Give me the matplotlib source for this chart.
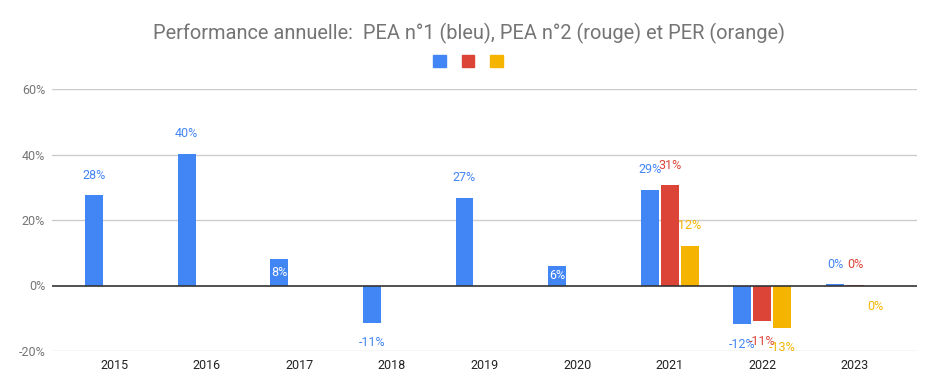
import matplotlib
matplotlib.use("Agg")
import matplotlib.pyplot as plt
from matplotlib.patches import Patch
import numpy as np

years = ["2015", "2016", "2017", "2018", "2019", "2020", "2021", "2022", "2023"]
pea1 = [27.5, 40.3, 8.2, -11.4, 26.8, 6.1, 29.2, -11.8, 0.4]
pea2 = [None, None, None, None, None, None, 30.6, -10.9, 0.2]
per = [None, None, None, None, None, None, 12.2, -12.9, -0.2]
series_names = ["PEA n°1", "PEA n°2", "PER"]
colors = ["#4285F4", "#DB4437", "#F4B400"]
title = "Performance annuelle:  PEA n°1 (bleu), PEA n°2 (rouge) et PER (orange)"
yticks = [-20, 0, 20, 40, 60]

plt.rcParams['font.family'] = ['Roboto', 'DejaVu Sans']

fig = plt.figure(figsize=(9.37, 3.92), dpi=100)
ax = fig.add_axes([52/937, 1-351/392, (917-52)/937, (351-89)/392])

x = np.arange(len(years))
width = 0.194
step = 0.216
offsets = [-step, 0, step]

def fmt(v):
    r = int(np.floor(abs(v) + 0.5)) * (1 if v >= 0 else -1)
    return f"{r}%"

for s, (vals, col) in enumerate(zip([pea1, pea2, per], colors)):
    for i, v in enumerate(vals):
        if v is None:
            continue
        xp = x[i] + offsets[s]
        ax.bar(xp, v, width=width, color=col, zorder=3)
        if 5 < abs(v) < 10:
            ax.text(xp, v/2, fmt(v), color="white", ha="center", va="center",
                    fontsize=9, zorder=4)
        else:
            dy = 14.4 if v >= 0 else -14.4
            ax.annotate(fmt(v), (xp, v), xytext=(0, dy), textcoords="offset points",
                        ha="center", va="center", color=col, fontsize=9, zorder=4)

ax.set_ylim(-20, 60)
ax.set_xlim(-0.67, 8.67)
ax.set_yticks(yticks)
ax.set_yticklabels([f"{t}%" for t in yticks], color="#757575", fontsize=9)
ax.set_xticks(x)
ax.set_xticklabels(years, color="#222222", fontsize=9)
ax.tick_params(axis="both", length=0)
ax.tick_params(axis="x", pad=6)
ax.tick_params(axis="y", pad=5)
for sp in ax.spines.values():
    sp.set_visible(False)
for t in yticks:
    if t != 0:
        ax.axhline(t, color="#cccccc", lw=1, zorder=1)
ax.axhline(0, color="#333333", lw=1.2, zorder=5)

fig.text(469/937, 1-33/392, title, ha="center", va="center", fontsize=14.4, color="#757575")

handles = [Patch(facecolor=c, edgecolor=c) for c in colors]
fig.legend(handles, ["", "", ""], loc="center", bbox_to_anchor=(468/937, 1-62/392),
           ncol=3, frameon=False, handlelength=0.9, handleheight=0.9,
           handletextpad=0, columnspacing=1.15)

fig.savefig("out.png", dpi=100)
